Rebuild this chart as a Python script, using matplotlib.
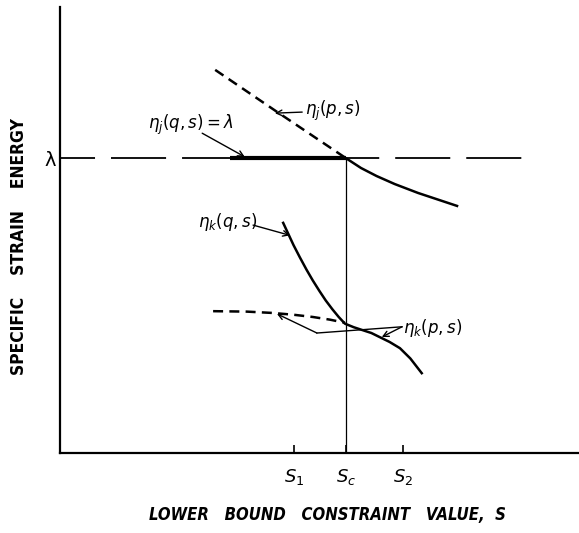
import numpy as np
import matplotlib.pyplot as plt

# values (arbitrary units, axes run 0..10)
s_ticks = [4.51, 5.51, 6.61]
s_labels = [r'$S_1$', r'$S_c$', r'$S_2$']
lam = 6.61
lam_xmax = 8.92
thick_x0 = 3.28

# eta_j(p,s), dashed part (left of Sc) and solid part (right of Sc)
ejp_x = [2.99, 4.18, 5.51]
ejp_y = [8.59, 7.65, 6.61]
ej_x = [5.51, 5.80, 6.10, 6.45, 6.90, 7.65]
ej_y = [6.61, 6.39, 6.21, 6.03, 5.83, 5.54]

# eta_k(q,s) solid
ekq_x = [4.30, 4.40, 4.50, 4.62, 4.75, 4.87, 5.00, 5.12, 5.25, 5.37, 5.49,
         5.66, 6.00, 6.35, 6.55, 6.75, 6.97]
ekq_y = [5.16, 4.91, 4.66, 4.39, 4.11, 3.87, 3.63, 3.42, 3.22, 3.05, 2.90,
         2.82, 2.69, 2.49, 2.35, 2.12, 1.79]

# eta_k(p,s) dashed
ekp_x = [2.95, 3.60, 4.10, 4.50, 4.87, 5.20, 5.49]
ekp_y = [3.18, 3.17, 3.14, 3.10, 3.05, 2.99, 2.92]

fig = plt.figure(figsize=(5.79, 5.33), dpi=100)
ax = fig.add_axes([60 / 579, 80 / 533, 519 / 579, 446 / 533])
ax.set_xlim(0, 10)
ax.set_ylim(0, 10)
for sp in ['top', 'right']:
    ax.spines[sp].set_visible(False)
ax.spines['left'].set_linewidth(1.6)
ax.spines['bottom'].set_linewidth(1.6)

# lambda level
ax.plot([0, lam_xmax], [lam, lam], color='black', lw=1.3,
        linestyle=(11.1, (30.5, 8.85)))
ax.plot([thick_x0, s_ticks[1]], [lam, lam], color='black', lw=3.0, solid_capstyle='butt')
ax.plot([s_ticks[1], s_ticks[1]], [0, lam], color='black', lw=0.9)

ax.plot(ejp_x, ejp_y, color='black', lw=1.8, dashes=(4, 2.5))
ax.plot(ej_x, ej_y, color='black', lw=1.8)
ax.plot(ekq_x, ekq_y, color='black', lw=1.8)
ax.plot(ekp_x, ekp_y, color='black', lw=1.8, dashes=(4, 2.5))

ax.set_xticks(s_ticks)
ax.set_xticklabels(s_labels, fontsize=13)
ax.tick_params(axis='x', direction='in', length=6, width=1.2, pad=10)
ax.set_yticks([lam])
ax.set_yticklabels(['\u03bb'], fontsize=14)
ax.tick_params(axis='y', length=0, pad=3)

arw = dict(arrowstyle='->', lw=1.0, color='black', shrinkA=0, shrinkB=0,
           mutation_scale=10)
tfs = 12
ax.annotate(r'$\eta_j(p,s)$', xy=(4.14, 7.62), xytext=(4.72, 7.67),
            fontsize=tfs, va='center', ha='left', arrowprops=arw)
ax.annotate(r'$\eta_j(q,s) = \lambda$', xy=(3.56, 6.64), xytext=(1.70, 7.35),
            fontsize=tfs, va='center', ha='left')
ax.annotate('', xy=(3.56, 6.64), xytext=(2.74, 7.17), arrowprops=arw)
ax.annotate(r'$\eta_k(q,s)$', xy=(4.43, 4.91), xytext=(2.66, 5.18),
            fontsize=tfs, va='center', ha='left')
ax.annotate('', xy=(4.43, 4.88), xytext=(3.72, 5.11), arrowprops=arw)
ax.text(6.61, 2.80, r'$\eta_k(p,s)$', fontsize=tfs, va='center', ha='left')
ax.plot([6.59, 4.95], [2.83, 2.69], color='black', lw=1.0)
ax.annotate('', xy=(4.18, 3.12), xytext=(4.95, 2.69), arrowprops=arw)
ax.annotate('', xy=(6.20, 2.60), xytext=(6.59, 2.83), arrowprops=arw)

fig.text(19 / 579, 1 - 247 / 533, 'SPECIFIC    STRAIN    ENERGY', rotation=90,
         ha='center', va='center', fontsize=12.5, fontweight='bold',
         family='DejaVu Sans', stretch='condensed')
fig.text(327 / 579, 1 - 515 / 533, 'LOWER   BOUND   CONSTRAINT   VALUE,  S',
         ha='center', va='center', fontsize=12, fontweight='bold',
         style='italic', family='DejaVu Sans', stretch='condensed')

fig.savefig('out.png', dpi=100)
